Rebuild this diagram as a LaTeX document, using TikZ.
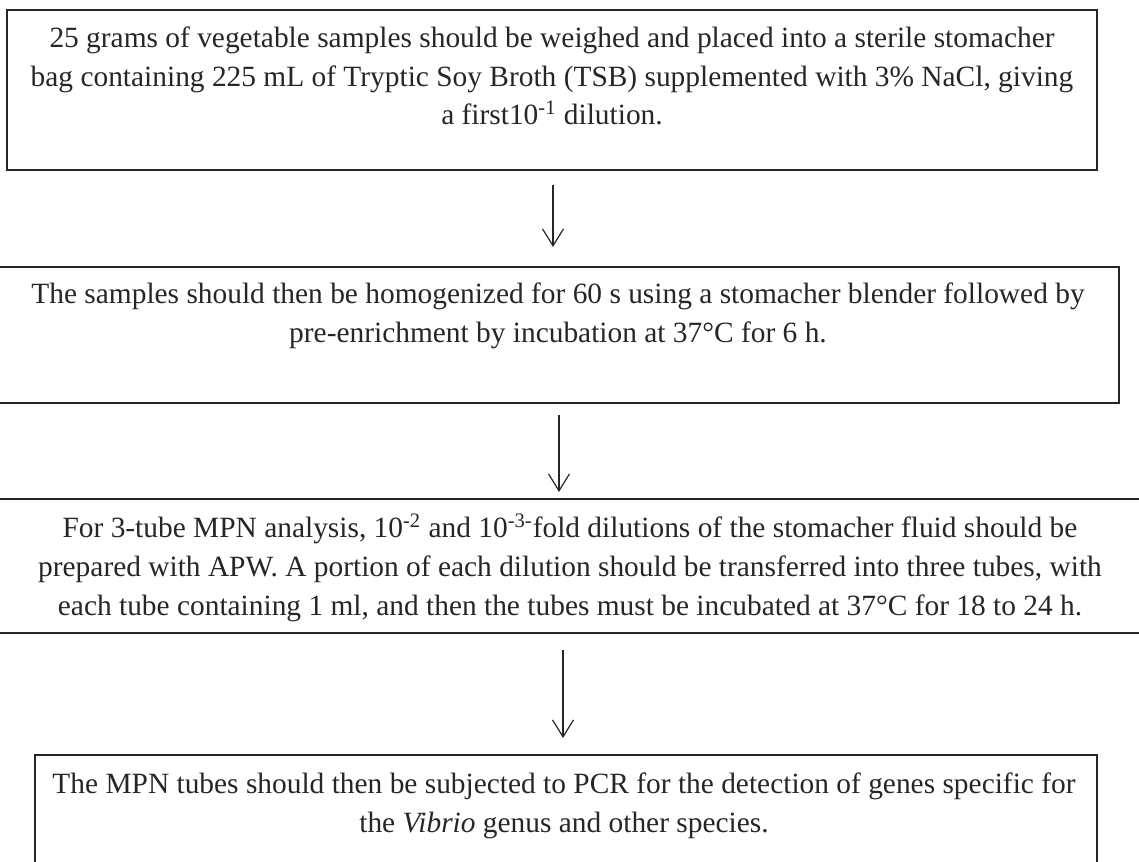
\documentclass[tikz,border=0pt]{standalone}
\usepackage{fontspec}
\setmainfont{Liberation Serif}
\usetikzlibrary{arrows.meta}
\begin{document}
\begin{tikzpicture}[x=0.5pt,y=-0.5pt,
  boxline/.style={draw=black!85, line width=0.6pt, inner sep=0pt},
  txt/.style={align=center, font=\fontsize{14.7}{19.3}\selectfont, inner sep=0pt, text=black!85, anchor=base},
  flow/.style={draw=black!85, line width=0.6pt, -{Straight Barb[length=8.5pt,width=10.5pt]}}]
\useasboundingbox (0,0) rectangle (1139,861);
\clip (0,0) rectangle (1139,861);
% boxes
\node[boxline, minimum width=545pt, minimum height=80pt] (b1) at (552,90) {};
\node[boxline, minimum width=569.5pt, minimum height=68pt] (b2) at (549.5,335) {};
\node[boxline, minimum width=589.5pt, minimum height=67pt] (b3) at (569.5,566) {};
\node[boxline, minimum width=531pt, minimum height=72.5pt] (b4) at (566,827.5) {};
% texts (anchor = baseline of last line)
\node[txt] (t1) at (552,125) {25 grams of vegetable samples should be weighed and placed into a sterile stomacher\\ bag containing 225 mL of Tryptic Soy Broth (TSB) supplemented with 3\% NaCl, giving\\ a first10\textsuperscript{-1} dilution.};
\node[txt] (t2) at (558,342) {The samples should then be homogenized for 60 s using a stomacher blender followed by\\ pre-enrichment by incubation at 37°C for 6 h.};
\node[txt] (t3) at (570,615) {For 3-tube MPN analysis, 10\textsuperscript{-2} and 10\textsuperscript{-3-}fold dilutions of the stomacher fluid should be\\ prepared with APW. A portion of each dilution should be transferred into three tubes, with\\ each tube containing 1 ml, and then the tubes must be incubated at 37°C for 18 to 24 h.};
\node[txt] (t4) at (564,832) {The MPN tubes should then be subjected to PCR for the detection of genes specific for\\ the \textit{Vibrio} genus and other species.};
% arrows
\coordinate (a1s) at (553,185);
\coordinate (a1e) at (553,247);
\coordinate (a2s) at (559,415);
\coordinate (a2e) at (559,492);
\coordinate (a3s) at (563,650);
\coordinate (a3e) at (563,738);
\draw[flow] (a1s) -- (a1e);
\draw[flow] (a2s) -- (a2e);
\draw[flow] (a3s) -- (a3e);
\end{tikzpicture}
\end{document}
